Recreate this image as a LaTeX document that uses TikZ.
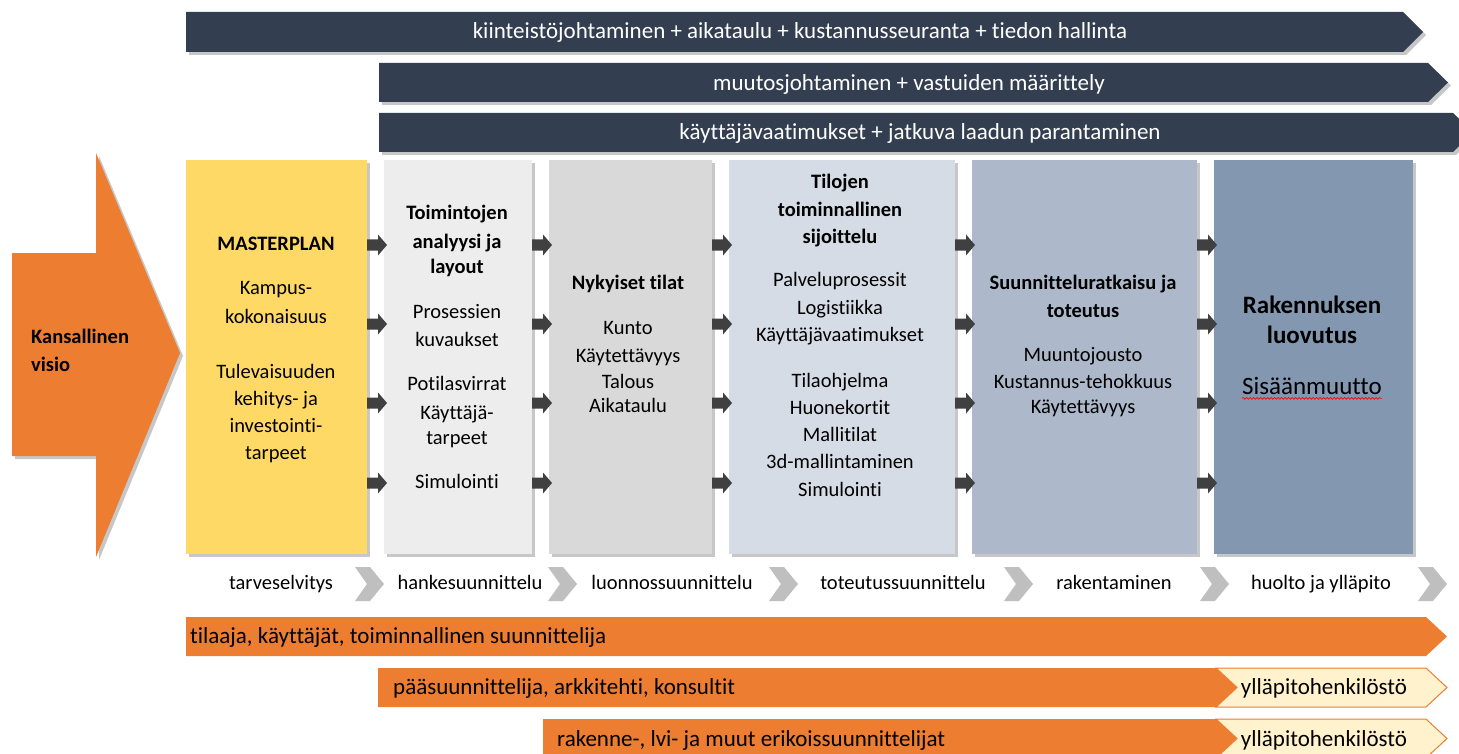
\documentclass[tikz,border=0pt]{standalone}
\usepackage{fontspec}
\setmainfont[Ligatures={NoCommon,TeX}]{Carlito}
\usetikzlibrary{shadows,decorations.pathmorphing}
\definecolor{navy}{HTML}{333F50}
\definecolor{orng}{HTML}{ED7D31}
\definecolor{ylw}{HTML}{FFD966}
\definecolor{gA}{HTML}{EDEDED}
\definecolor{gB}{HTML}{D9D9D9}
\definecolor{bA}{HTML}{D6DCE5}
\definecolor{bB}{HTML}{ADB9CA}
\definecolor{bC}{HTML}{8497B0}
\definecolor{arr}{HTML}{404040}
\definecolor{chev}{HTML}{BFBFBF}
\definecolor{cream}{HTML}{FFF2CC}
\begin{document}
\begin{tikzpicture}[x=1pt,y=-1pt,
  shd/.style={drop shadow={shadow xshift=3pt,shadow yshift=-3pt,fill=black,opacity=0.22}},
  txt/.style={font=\fontsize{20.5}{25}\selectfont,inner sep=0pt,anchor=mid,yshift=-4.5pt},
  ltxt/.style={txt,font=\fontsize{23}{28}\selectfont},
  big/.style={font=\fontsize{25}{30}\selectfont,inner sep=0pt,anchor=mid,yshift=-4.5pt},
  wtxt/.style={ltxt,text=white},
  box/.style={anchor=north west,minimum height=394pt,inner sep=0pt,outer sep=0pt,shd}]
\useasboundingbox (0,0) rectangle (1459,754);
\clip (0,0) rectangle (1459,754);

% top banners
\fill[navy,shd] (186,12) -- (1403,12) -- (1423,32) -- (1403,52) -- (186,52) -- cycle;
\fill[navy,shd] (379,63) -- (1428,63) -- (1448,82.5) -- (1428,102) -- (379,102) -- cycle;
\fill[navy,shd] (379,113) -- (1453,113) -- (1473,132.5) -- (1453,152) -- (379,152) -- cycle;
\node[wtxt] (t1) at (800,32) {kiinteistöjohtaminen + aikataulu + kustannusseuranta + tiedon hallinta};
\node[wtxt] (t2) at (909,84) {muutosjohtaminen + vastuiden määrittely};
\node[wtxt] (t3) at (920,133) {käyttäjävaatimukset + jatkuva laadun parantaminen};

% big orange arrow
\fill[orng,shd] (12,253) -- (96,253) -- (96,153) -- (180,353) -- (96,557) -- (96,456) -- (12,456) -- cycle;
\node[txt,anchor=mid west,font=\fontsize{20.5}{25}\selectfont\bfseries] (v1) at (31,337) {Kansallinen};
\node[txt,anchor=mid west,font=\fontsize{20.5}{25}\selectfont\bfseries] (v2) at (31,365) {visio};

% boxes
\node[box,fill=ylw,minimum width=181pt] (b1) at (186,160) {};
\node[box,fill=gA,minimum width=148pt] (b2) at (384,160) {};
\node[box,fill=gB,minimum width=163pt] (b3) at (549,160) {};
\node[box,fill=bA,minimum width=226pt] (b4) at (729,160) {};
\node[box,fill=bB,minimum width=225pt] (b5) at (972,160) {};
\node[box,fill=bC,minimum width=199pt] (b6) at (1214,160) {};

% small block arrows
\foreach \x in {367,532,712,955,1197}
  \foreach \y in {245,324,403,483}
    \fill[arr] (\x,\y-5.5) -- (\x+11,\y-5.5) -- (\x+11,\y-10.5) -- (\x+20,\y) -- (\x+11,\y+10.5) -- (\x+11,\y+5.5) -- (\x,\y+5.5) -- cycle;

% box texts
\foreach \y/\t [count=\i] in {244/\bfseries MASTERPLAN,288/Kampus-,317/kokonaisuus,372/Tulevaisuuden,399/kehitys- ja,426/investointi-,453/tarpeet}
  \node[txt] (m\i) at (276,\y) {\t};
\foreach \y/\t [count=\i] in {213/\bfseries Toimintojen,242/\bfseries analyysi ja,267/\bfseries layout,312/Prosessien,340/kuvaukset,384/Potilasvirrat,413/Käyttäjä-,438/tarpeet,482/Simulointi}
  \node[txt] (n\i) at (457,\y) {\t};
\foreach \y/\t [count=\i] in {283/\bfseries Nykyiset tilat,328/Kunto,356/Käytettävyys,382/Talous,406/Aikataulu}
  \node[txt] (o\i) at (628,\y) {\t};
\foreach \y/\t [count=\i] in {182/\bfseries Tilojen,210/\bfseries toiminnallinen,237/\bfseries sijoittelu,280/Palveluprosessit,308/Logistiikka,335/Käyttäjävaatimukset,381/Tilaohjelma,408/Huonekortit,435/Mallitilat,462/3d-mallintaminen,490/Simulointi}
  \node[txt] (p\i) at (840,\y) {\t};
\foreach \y/\t [count=\i] in {283/\bfseries Suunnitteluratkaisu ja,311/\bfseries toteutus,355/Muuntojousto,382/Kustannus-tehokkuus,407/Käytettävyys}
  \node[txt] (q\i) at (1083,\y) {\t};
\node[big,font=\fontsize{25}{30}\selectfont\bfseries] (r1) at (1312,307) {Rakennuksen};
\node[big,font=\fontsize{25}{30}\selectfont\bfseries] (r2) at (1312,337) {luovutus};
\node[big] (r3) at (1312,388) {Sisäänmuutto};
\draw[red,line width=0.7pt,decorate,decoration={snake,amplitude=0.9pt,segment length=3.5pt}]
  ([yshift=-3.5pt]r3.base west) -- ([yshift=-3.5pt]r3.base east);

% phase chevrons
\foreach \x in {355,548,769,1004,1200,1418}
  \fill[chev] (\x,567) -- (\x+15,567) -- (\x+29,584) -- (\x+15,601) -- (\x,601) -- (\x+12,584) -- cycle;
\node[txt] (f1) at (281,583) {tarveselvitys};
\node[txt] (f2) at (470,583) {hankesuunnittelu};
\node[txt] (f3) at (672,583) {luonnossuunnittelu};
\node[txt] (f4) at (903,583) {toteutussuunnittelu};
\node[txt] (f5) at (1114,583) {rakentaminen};
\node[txt] (f6) at (1321,583) {huolto ja ylläpito};

% bottom bars
\fill[orng] (186,617) -- (1426,617) -- (1447,636.5) -- (1426,656) -- (186,656) -- cycle;
\fill[orng] (378,668) -- (1216,668) -- (1237,687.5) -- (1216,707) -- (378,707) -- cycle;
\filldraw[fill=cream,draw=orng,line width=1pt] (1216,668) -- (1426,668) -- (1447,687.5) -- (1426,707) -- (1216,707) -- (1237,687.5) -- cycle;
\fill[orng] (543,719) -- (1216,719) -- (1237,738.5) -- (1216,758) -- (543,758) -- cycle;
\filldraw[fill=cream,draw=orng,line width=1pt] (1216,719) -- (1426,719) -- (1447,738.5) -- (1426,758) -- (1216,758) -- (1237,738.5) -- cycle;
\node[ltxt,anchor=mid west] (g1) at (190,637) {tilaaja, käyttäjät, toiminnallinen suunnittelija};
\node[ltxt,anchor=mid west] (g2) at (393,688) {pääsuunnittelija, arkkitehti, konsultit};
\node[ltxt,anchor=mid west] (g3) at (557,740) {rakenne-, lvi- ja muut erikoissuunnittelijat};
\node[ltxt] (h1) at (1324,688) {ylläpitohenkilöstö};
\node[ltxt] (h2) at (1324,740) {ylläpitohenkilöstö};
\end{tikzpicture}
\end{document}
